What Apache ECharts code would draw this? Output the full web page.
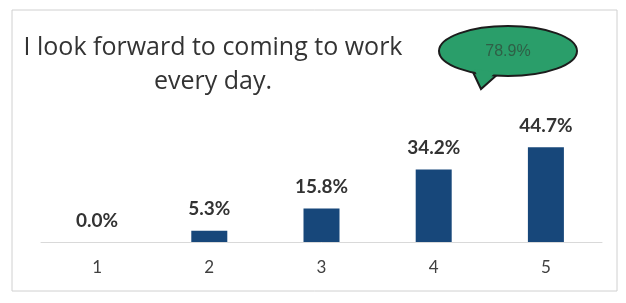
<!DOCTYPE html>
<html>
<head>
<meta charset="utf-8">
<script src="https://cdn.jsdelivr.net/npm/echarts@6/dist/echarts.min.js"></script>
<style>
  html, body { margin: 0; padding: 0; background: #fff; }
  #main { width: 626px; height: 303px; }
</style>
</head>
<body>
<div id="main"></div>
<script>
// categories and values
var categories = ['1', '2', '3', '4', '5'];
var percents = [0.0, 5.3, 15.8, 34.2, 44.7];
var calloutText = '78.9%';
var titleLines = ['I look forward to coming to work', 'every day.'];

var chart = echarts.init(document.getElementById('main'), null, { renderer: 'canvas' });

var option = {
    backgroundColor: '#fff',
    animation: false,
    grid: {
        left: 41,
        right: 24,
        top: 136,
        bottom: 61
    },
    xAxis: {
        type: 'category',
        data: categories,
        axisLine: { lineStyle: { color: '#d9d9d9', width: 1 } },
        axisTick: { show: false },
        axisLabel: {
            color: '#404040',
            fontSize: 17,
            fontFamily: 'Lato',
            margin: 17
        }
    },
    yAxis: {
        type: 'value',
        min: 0,
        max: 50,
        show: false,
        splitLine: { show: false }
    },
    series: [{
        type: 'bar',
        data: percents,
        barWidth: 36,
        itemStyle: { color: '#17477a' },
        label: {
            show: true,
            position: 'top',
            distance: 12,
            color: '#333',
            fontWeight: 'bold',
            fontSize: 19,
            fontFamily: 'Lato',
            formatter: function (p) { return p.value.toFixed(1) + '%'; }
        }
    }],
    graphic: [
        // outer frame
        {
            type: 'rect',
            shape: { x: 12, y: 10, width: 605, height: 281 },
            style: { fill: 'none', stroke: '#d0d0d0', lineWidth: 1 }
        },
        // title
        {
            type: 'text',
            x: 213, y: 48,
            style: {
                text: titleLines[0],
                fill: '#333',
                fontSize: 25,
                fontFamily: 'Open Sans',
                align: 'center',
                verticalAlign: 'middle'
            }
        },
        {
            type: 'text',
            x: 213, y: 82,
            style: {
                text: titleLines[1],
                fill: '#333',
                fontSize: 25,
                fontFamily: 'Open Sans',
                align: 'center',
                verticalAlign: 'middle'
            }
        },
        // callout bubble: tail, body, seam cover, text
        {
            type: 'polygon',
            shape: { points: [[472, 70], [481, 89], [498, 74]] },
            style: { fill: '#2a9e6a', stroke: '#1c1c1c', lineWidth: 2 }
        },
        {
            type: 'ellipse',
            shape: { cx: 508, cy: 51, rx: 69, ry: 25 },
            style: { fill: '#2a9e6a', stroke: '#1c1c1c', lineWidth: 2 }
        },
        {
            type: 'polygon',
            shape: { points: [[474, 69], [482, 85], [496, 72]] },
            style: { fill: '#2a9e6a' }
        },
        {
            type: 'text',
            x: 508, y: 52,
            style: {
                text: calloutText,
                fill: '#2f5f46',
                fontSize: 16,
                fontFamily: 'Liberation Sans',
                align: 'center',
                verticalAlign: 'middle'
            }
        }
    ]
};

chart.setOption(option);
</script>
</body>
</html>
